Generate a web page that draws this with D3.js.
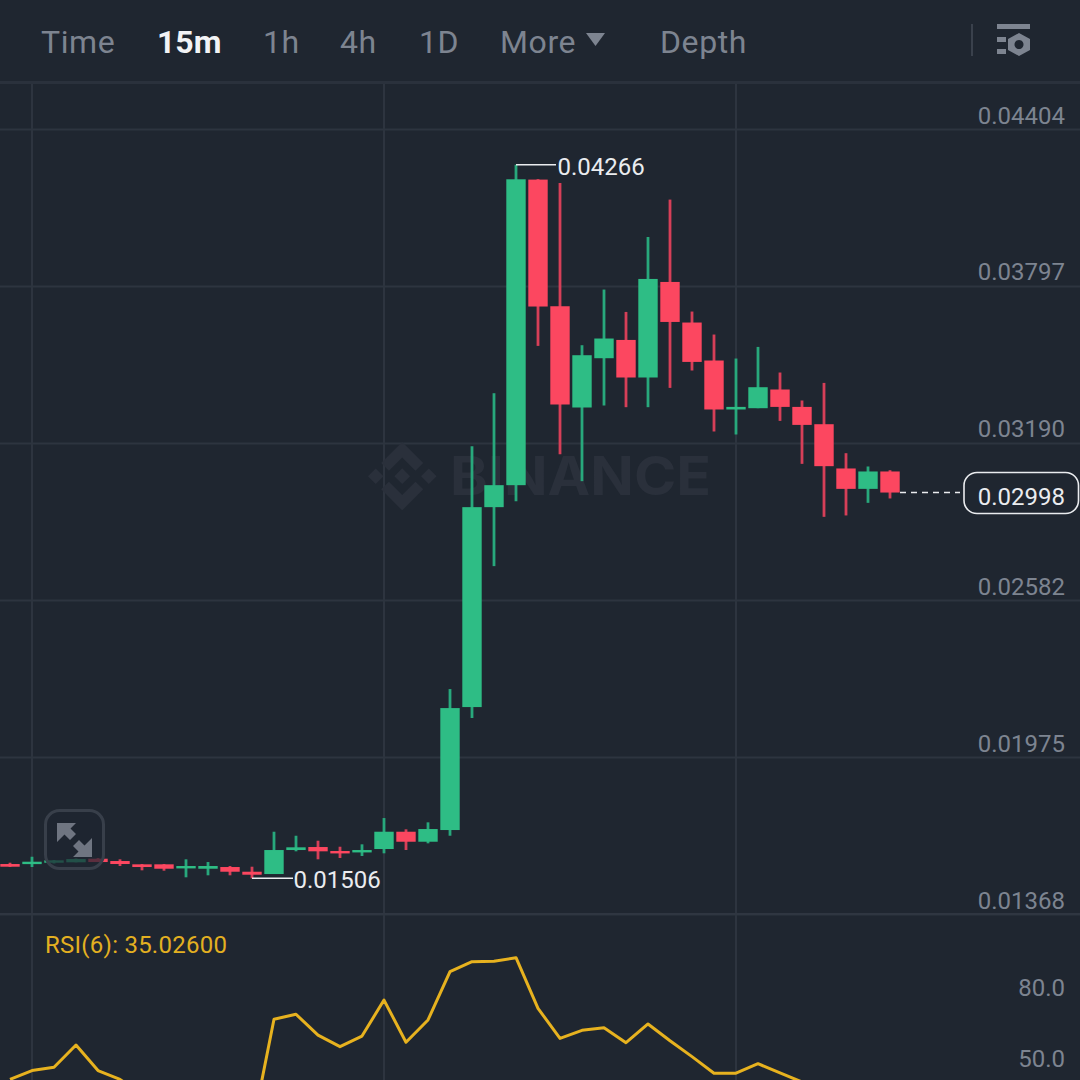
<!DOCTYPE html>
<html><head><meta charset="utf-8">
<script src="https://cdnjs.cloudflare.com/ajax/libs/d3/7.8.5/d3.min.js"></script>
<style>html,body{margin:0;padding:0;background:#1f2630;overflow:hidden}svg{display:block}text{font-family:Roboto,sans-serif}</style>
</head><body><svg id="c" width="1080" height="1080"></svg>
<script>
const tabs = ["Time","15m","1h","4h","1D","More","Depth"];
const priceTicks = [0.04404,0.03797,0.03190,0.02582,0.01975,0.01368];
const rsiTicks = [80,50];
const timeTickIdx = [1,17,33];
const opens = [15.613,15.613,15.663,15.679,15.818,15.729,15.601,15.601,15.447,15.431,15.497,15.315,15.226,16.154,16.270,16.116,16.065,16.193,16.862,16.475,16.927,21.683,29.415,30.265,42.083,37.185,33.269,35.175,35.882,34.429,38.125,36.555,35.086,33.192,33.242,33.965,33.292,32.623,30.911,30.122,30.795];
const highs = [15.663,15.895,15.768,15.826,15.845,15.795,15.613,15.613,15.795,15.690,15.536,15.509,16.862,16.707,16.514,16.282,16.375,17.391,16.955,17.225,22.379,31.773,33.822,42.660,42.100,41.952,35.678,37.831,36.965,39.864,41.310,36.980,36.091,35.163,35.612,34.622,33.540,34.220,31.502,30.988,30.845];
const lows = [15.497,15.497,15.632,15.679,15.690,15.536,15.369,15.354,15.099,15.176,15.176,15.060,15.226,16.104,15.795,15.845,15.922,16.027,16.154,16.413,16.707,21.257,27.134,29.647,35.651,31.464,30.420,33.346,33.281,33.281,34.027,34.699,32.341,32.225,33.242,32.751,31.089,29.040,29.094,29.581,29.751];
const closes = [15.509,15.702,15.756,15.806,15.690,15.613,15.497,15.431,15.536,15.536,15.315,15.199,16.154,16.259,16.104,16.027,16.154,16.862,16.475,16.966,21.644,29.415,30.265,42.095,37.174,33.385,35.291,35.937,34.429,38.241,36.578,35.032,33.192,33.292,34.054,33.292,32.596,31.000,30.122,30.795,29.980];
const rsi = [41.4,45.1,46.5,55.9,45.1,41.4,34.8,28.5,30.6,30.6,24.2,20.0,66.8,68.9,60.1,55.2,59.7,74.9,57.1,66.5,86.9,91.1,91.3,92.8,71.4,58.7,62.1,63.2,56.9,64.8,57.7,51.0,44.0,44.0,48.0,44.1,40.3,38.6,36.1,37.7,35.026];
const lastPrice = 29.98, rsiLabel = "RSI(6): 35.02600", watermark = "BINANCE";

const W=1080,H=1080,BG="#1f2630",GRID="#2d343f",UP="#2ebd85",DOWN="#fc4760",UPW="#28a87c",DOWNW="#d63f58",MUTED="#7d8490",WHITE="#eaecef";
const svg=d3.select("#c");
svg.append("rect").attr("width",W).attr("height",H).attr("fill",BG);
const idx=d3.range(opens.length);
const x=d3.scalePoint().domain(idx).range([10,890]);
const y=d3.scaleLinear().domain([13.68,44.04]).range([914,129]);
const yAxisScale=d3.scaleLinear().domain([0.01368,0.04404]).range([914,129]);
const yR=d3.scaleLinear().domain([50,80]).range([1059,988]);

// vertical grid
svg.append("g").selectAll("line").data(timeTickIdx).join("line")
 .attr("x1",d=>x(d)).attr("x2",d=>x(d)).attr("y1",83).attr("y2",H).attr("stroke",GRID).attr("stroke-width",2);
// price axis
const ax=svg.append("g").attr("transform",`translate(${W},0)`)
 .call(d3.axisRight(yAxisScale).tickValues(priceTicks).tickFormat(d3.format(".5f")).tickSize(-W).tickPadding(0));
ax.select(".domain").remove();
ax.selectAll("line").attr("stroke",GRID).attr("stroke-width",2);
ax.selectAll("text").attr("x",-15).attr("y",-6).attr("dy",0).attr("text-anchor","end").attr("fill",MUTED).attr("font-size",24).attr("font-family","Roboto,sans-serif");
// header separator
svg.append("rect").attr("x",0).attr("y",81).attr("width",W).attr("height",3).attr("fill","#2a313c");
// watermark
const wm=svg.append("g").attr("fill","#2a303b");
wm.append("path").attr("transform","translate(368,442) scale(0.54)")
 .attr("d","M38.73 53.2l24.59-24.58 24.6 24.6 14.3-14.31L63.32 0 24.42 38.9 38.73 53.2zM0 63.31l14.3-14.31 14.31 14.31-14.31 14.3zM38.73 73.41L63.32 98l24.6-24.6 14.31 14.29-38.9 38.91-38.91-38.88-.02-.02 14.32-14.29zM98.28 63.31l14.3-14.31 14.31 14.3-14.31 14.32zM77.83 63.3L63.32 48.78 52.59 59.51l-1.24 1.23-2.54 2.54 14.51 14.5 14.51-14.47z");
wm.append("text").attr("x",450).attr("y",495).attr("font-size",54).attr("font-weight",700).attr("textLength",261).attr("lengthAdjust","spacingAndGlyphs").style("font-family","Inter,Roboto,sans-serif").text(watermark);
// candles
const col=i=>closes[i]>=opens[i];
const g=svg.append("g");
g.selectAll("line").data(idx).join("line").attr("x1",i=>x(i)).attr("x2",i=>x(i))
 .attr("y1",i=>y(highs[i])).attr("y2",i=>y(lows[i])).attr("stroke",i=>col(i)?UPW:DOWNW).attr("stroke-width",2.8);
g.selectAll("rect").data(idx).join("rect").attr("x",i=>x(i)-9.7).attr("width",19.4)
 .attr("y",i=>y(Math.max(opens[i],closes[i])))
 .attr("height",i=>Math.max(2.4,Math.abs(y(opens[i])-y(closes[i]))))
 .attr("fill",i=>col(i)?UP:DOWN);
// high / low labels
const hiI=d3.maxIndex(highs), loI=d3.minIndex(lows);
svg.append("line").attr("x1",x(hiI)).attr("x2",556).attr("y1",y(highs[hiI])).attr("y2",y(highs[hiI])).attr("stroke",WHITE).attr("stroke-width",1.6);
svg.append("text").attr("x",557.5).attr("y",y(highs[hiI])+10).attr("font-size",24).attr("fill",WHITE).text(d3.format(".5f")(highs[hiI]/1000));
svg.append("line").attr("x1",x(loI)).attr("x2",293).attr("y1",y(lows[loI])).attr("y2",y(lows[loI])).attr("stroke",WHITE).attr("stroke-width",1.6);
svg.append("text").attr("x",293.5).attr("y",y(lows[loI])+9.5).attr("font-size",24).attr("fill",WHITE).text(d3.format(".5f")(lows[loI]/1000));
// last price
const ly=y(lastPrice);
svg.append("line").attr("x1",x(40)+10).attr("x2",960).attr("y1",ly).attr("y2",ly).attr("stroke",WHITE).attr("stroke-width",1.6).attr("stroke-dasharray","6 5");
svg.append("rect").attr("x",964).attr("y",472.5).attr("width",114.5).attr("height",41).attr("rx",13).attr("fill",BG).attr("stroke",WHITE).attr("stroke-width",1.6);
svg.append("text").attr("x",1065).attr("y",505).attr("text-anchor","end").attr("font-size",24).attr("fill",WHITE).text(d3.format(".5f")(lastPrice/1000));
// expand button
const eb=svg.append("g");
eb.append("rect").attr("x",45.5).attr("y",810.5).attr("width",58).attr("height",58).attr("rx",14).attr("fill",BG).attr("fill-opacity",.72).attr("stroke","#383f4a").attr("stroke-width",3);
eb.append("path").attr("fill","#6f7581").attr("d","M57 823H76L70.5 828.5L76 834L70 840L64.5 834.5L57 842ZM92 857H73L78.5 851.5L73 846L79 840L84.5 845.5L92 838Z");
// panel divider + RSI
svg.append("line").attr("x1",0).attr("x2",W).attr("y1",914).attr("y2",914).attr("stroke","#2f3641").attr("stroke-width",2);
svg.append("text").attr("x",45).attr("y",953).attr("font-size",24).attr("letter-spacing",.25).attr("fill","#e3b021").text(rsiLabel);
svg.append("path").datum(idx).attr("fill","none").attr("stroke","#e7b21f").attr("stroke-width",3).attr("stroke-linejoin","round")
 .attr("d",d3.line().x(i=>x(i)).y(i=>yR(rsi[i])));
const ra=svg.append("g").attr("transform","translate(1065,0)").call(d3.axisLeft(yR).tickValues(rsiTicks).tickFormat(d3.format(".1f")).tickSize(0).tickPadding(0));
ra.select(".domain").remove();
ra.selectAll("text").attr("fill",MUTED).attr("font-size",24).attr("font-family","Roboto,sans-serif");
// header
const tabX=[41,157,263,340,419,500,660];
svg.append("g").selectAll("text").data(tabs).join("text").attr("x",(d,i)=>tabX[i]).attr("y",53)
 .attr("font-size",32).attr("font-weight",d=>d==="15m"?700:400).attr("fill",d=>d==="15m"?"#f2f3f5":MUTED).attr("letter-spacing",d=>d==="15m"?0:.6).text(d=>d);
svg.append("path").attr("fill",MUTED).attr("d","M586 33H605L595.5 46Z");
svg.append("rect").attr("x",971).attr("y",24).attr("width",2).attr("height",32).attr("fill","#3a414c");
const ic=svg.append("g").attr("fill",MUTED);
ic.append("rect").attr("x",997).attr("y",24).attr("width",33).attr("height",5);
ic.append("rect").attr("x",997).attr("y",37).attr("width",9).attr("height",5);
ic.append("rect").attr("x",997).attr("y",49).attr("width",9).attr("height",5);
ic.append("path").attr("fill-rule","evenodd").attr("d","M1019 33L1030 39V50L1019 56L1008 50V39ZM1019 40a4.5 4.5 0 1 0 .01 0Z");
</script></body></html>
